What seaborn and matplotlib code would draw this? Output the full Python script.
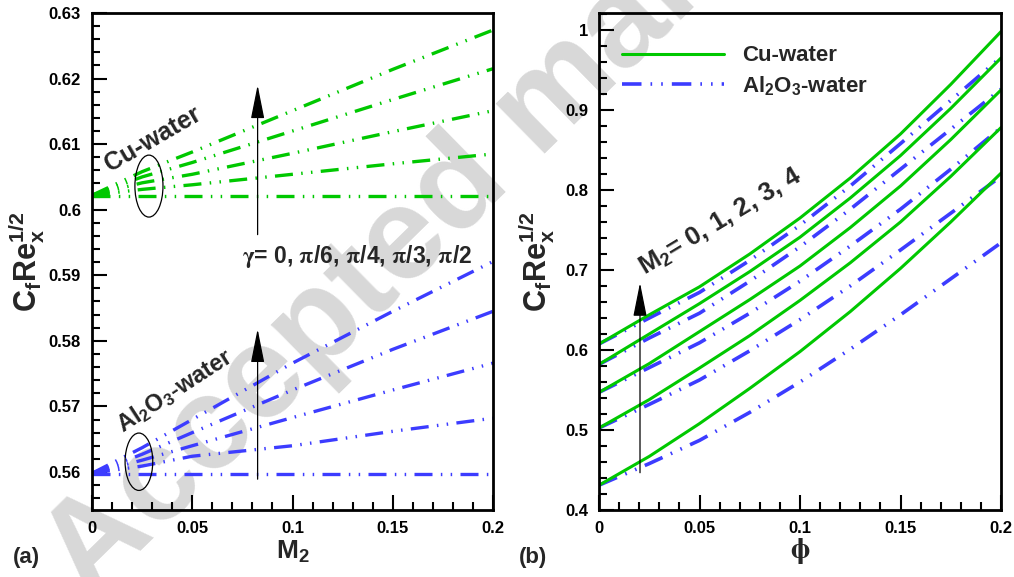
import numpy as np
import pandas as pd
import matplotlib
matplotlib.use("Agg")
import matplotlib.pyplot as plt
import seaborn as sns
from matplotlib.patches import Ellipse
from matplotlib.lines import Line2D

# ---------------- data: panel (a) ----------------
m2_vals = [0.0, 0.025, 0.05, 0.10, 0.15, 0.20]
gamma_labels = ["0", "pi/6", "pi/4", "pi/3", "pi/2"]
cu_g0 = [0.6021, 0.6021, 0.6021, 0.6021, 0.6021, 0.6021]
cu_g30 = [0.6022, 0.6031, 0.6038, 0.6054, 0.6070, 0.6085]
cu_g45 = [0.6022, 0.6041, 0.6054, 0.6086, 0.6119, 0.6151]
cu_g60 = [0.6022, 0.6050, 0.6072, 0.6120, 0.6168, 0.6215]
cu_g90 = [0.6022, 0.6058, 0.6088, 0.6151, 0.6214, 0.6274]
al_g0 = [0.5597, 0.5597, 0.5597, 0.5597, 0.5597, 0.5597]
al_g30 = [0.5598, 0.5609, 0.5624, 0.5640, 0.5662, 0.5682]
al_g45 = [0.5598, 0.5618, 0.5640, 0.5683, 0.5725, 0.5766]
al_g60 = [0.5598, 0.5627, 0.5660, 0.5725, 0.5787, 0.5845]
al_g90 = [0.5598, 0.5637, 0.5680, 0.5766, 0.5845, 0.5921]

# ---------------- data: panel (b) ----------------
phi_vals = [0.0, 0.025, 0.05, 0.075, 0.10, 0.125, 0.15, 0.175, 0.20]
m2_levels = [0, 1, 2, 3, 4]
cu_m0 = [0.431, 0.467, 0.508, 0.552, 0.598, 0.648, 0.702, 0.760, 0.821]
cu_m1 = [0.5025, 0.538, 0.5775, 0.618, 0.662, 0.709, 0.760, 0.817, 0.878]
cu_m2 = [0.547, 0.583, 0.623, 0.663, 0.705, 0.753, 0.805, 0.863, 0.925]
cu_m3 = [0.582, 0.620, 0.658, 0.698, 0.741, 0.790, 0.843, 0.902, 0.965]
cu_m4 = [0.6075, 0.644, 0.679, 0.720, 0.765, 0.815, 0.870, 0.932, 0.998]
al_m0 = [0.431, 0.458, 0.487, 0.522, 0.560, 0.601, 0.644, 0.689, 0.734]
al_m1 = [0.5025, 0.532, 0.5625, 0.599, 0.638, 0.680, 0.725, 0.771, 0.817]
al_m2 = [0.547, 0.578, 0.609, 0.646, 0.686, 0.730, 0.776, 0.826, 0.878]
al_m3 = [0.582, 0.615, 0.646, 0.686, 0.729, 0.776, 0.826, 0.876, 0.926]
al_m4 = [0.6075, 0.640, 0.672, 0.712, 0.756, 0.805, 0.858, 0.912, 0.966]

# ---------------- style ----------------
sns.set_style("ticks")
plt.rcParams["font.family"] = ["Liberation Sans", "DejaVu Sans"]
plt.rcParams["font.weight"] = "bold"
plt.rcParams["mathtext.fontset"] = "custom"
plt.rcParams["mathtext.rm"] = "Liberation Sans:bold"
plt.rcParams["mathtext.bf"] = "Liberation Sans:bold"
plt.rcParams["mathtext.it"] = "Liberation Sans:bold:italic"

GREEN = "#00c800"
BLUE = "#3c3cff"
DDOT = (0, (5.4, 2.5, 0.45, 2.5, 0.45, 2.5))

fig = plt.figure(figsize=(10.14, 5.77), dpi=100)
W, H = 1014, 577

def px_axes(l, r, t, b):
    return fig.add_axes([l / W, (H - b) / H, (r - l) / W, (b - t) / H])

axA = px_axes(92, 493, 13, 510)
axB = px_axes(599, 1001, 13, 510)

# watermark
fig.text(89 / W, (H - 602) / H, "Accepted manuscript", rotation=44.5,
         rotation_mode="anchor", ha="left", va="baseline",
         fontsize=95, fontweight="bold", color="#d8d8d8", zorder=0)

for ax in (axA, axB):
    ax.set_facecolor("none")
    ax.set_zorder(2)

# ---- panel (a)
cu_list = [cu_g0, cu_g30, cu_g45, cu_g60, cu_g90]
al_list = [al_g0, al_g30, al_g45, al_g60, al_g90]
for vals in cu_list:
    sns.lineplot(x=m2_vals, y=vals, ax=axA, color=GREEN, lw=2.4,
                 linestyle=DDOT, errorbar=None)
for vals in al_list:
    sns.lineplot(x=m2_vals, y=vals, ax=axA, color=BLUE, lw=2.4,
                 linestyle=DDOT, errorbar=None)

axA.set_xlim(0, 0.2)
axA.set_ylim(0.5542, 0.63)
axA.set_xticks([0, 0.05, 0.1, 0.15, 0.2])
axA.set_xticklabels(["0", "0.05", "0.1", "0.15", "0.2"])
axA.set_xticks(np.arange(0, 0.2001, 0.01), minor=True)
axA.set_yticks([0.56, 0.57, 0.58, 0.59, 0.6, 0.61, 0.62, 0.63])
axA.set_yticklabels(["0.56", "0.57", "0.58", "0.59", "0.6", "0.61", "0.62", "0.63"])
axA.set_yticks(np.arange(0.556, 0.6301, 0.002), minor=True)

axA.add_patch(Ellipse((0.0284, 0.6036), 0.0140, 0.00945, fill=False,
                      ec="black", lw=0.9, zorder=5))
axA.add_patch(Ellipse((0.0234, 0.56156), 0.0138, 0.00875, fill=False,
                      ec="black", lw=0.9, zorder=5))
arrow_kw = dict(arrowstyle="-|>,head_length=2.1,head_width=0.42",
                mutation_scale=10, lw=0.9, color="black",
                shrinkA=0, shrinkB=0)
axA.annotate("", xy=(0.0826, 0.6190), xytext=(0.0826, 0.5962), arrowprops=arrow_kw)
axA.annotate("", xy=(0.0826, 0.5818), xytext=(0.0826, 0.5589), arrowprops=arrow_kw)
axA.text(0.0302, 0.6108, "Cu-water", rotation=30, ha="center", va="center",
         fontsize=18, fontweight="bold")
axA.text(0.0414, 0.5724, r"Al$_2$O$_3$-water", rotation=33, ha="center",
         va="center", fontsize=17, fontweight="bold")
axA.text(0.1322, 0.5928,
         r"$\mathrm{\gamma}$= 0, $\mathrm{\pi}$/6, $\mathrm{\pi}$/4, $\mathrm{\pi}$/3, $\mathrm{\pi}$/2",
         ha="center", va="center", fontsize=16.5, fontweight="bold",
         math_fontfamily="stix")

# ---- panel (b)
cuB = [cu_m0, cu_m1, cu_m2, cu_m3, cu_m4]
alB = [al_m0, al_m1, al_m2, al_m3, al_m4]
for vals in alB:
    sns.lineplot(x=phi_vals, y=vals, ax=axB, color=BLUE, lw=2.6,
                 linestyle=DDOT, errorbar=None)
for vals in cuB:
    sns.lineplot(x=phi_vals, y=vals, ax=axB, color=GREEN, lw=2.2,
                 linestyle="-", errorbar=None)

axB.set_xlim(0, 0.2)
axB.set_ylim(0.4, 1.02125)
axB.set_xticks([0, 0.05, 0.1, 0.15, 0.2])
axB.set_xticklabels(["0", "0.05", "0.1", "0.15", "0.2"])
axB.set_xticks(np.arange(0, 0.2001, 0.01), minor=True)
axB.set_yticks([0.4, 0.5, 0.6, 0.7, 0.8, 0.9, 1.0])
axB.set_yticklabels(["0.4", "0.5", "0.6", "0.7", "0.8", "0.9", "1"])
axB.set_yticks(np.arange(0.4, 1.0201, 0.02), minor=True)

axB.annotate("", xy=(0.0204, 0.684), xytext=(0.0204, 0.4466), arrowprops=arrow_kw)
axB.text(0.0605, 0.7605, r"M$_2$= 0, 1, 2, 3, 4", rotation=31, ha="center",
         va="center", fontsize=18.5, fontweight="bold")

handles = [Line2D([], [], color=GREEN, lw=2.2),
           Line2D([], [], color=BLUE, lw=2.6, linestyle=DDOT)]
axB.legend(handles, ["Cu-water", r"Al$_2$O$_3$-water"], loc="upper left",
           bbox_to_anchor=(0.057, 0.935), frameon=False, borderpad=0,
           borderaxespad=0, handlelength=4.6, handletextpad=0.8,
           labelspacing=0.35, prop=dict(size=16, weight="bold"))

# ---- common axis styling
ylab = r"$\mathbf{C_fRe_x^{1/2}}$"
for ax in (axA, axB):
    for s in ax.spines.values():
        s.set_linewidth(2)
        s.set_color("black")
    ax.tick_params(which="both", direction="in", top=False, right=False,
                   labelsize=12, width=1.5, colors="black")
    ax.tick_params(which="major", length=11, pad=8)
    ax.tick_params(which="minor", length=6)
    for lab in ax.get_xticklabels() + ax.get_yticklabels():
        lab.set_fontweight("bold")
axA.set_ylabel(ylab, fontsize=22, labelpad=1)
axB.set_ylabel(ylab, fontsize=22, labelpad=6)
axA.set_xlabel(r"$\mathbf{M_2}$", fontsize=19, labelpad=2)
axB.set_xlabel(r"$\mathrm{\phi}$", fontsize=21, labelpad=0,
               math_fontfamily="stix")

fig.text(26 / W, (H - 558) / H, "(a)", ha="center", va="center",
         fontsize=16, fontweight="bold")
fig.text(533 / W, (H - 557) / H, "(b)", ha="center", va="center",
         fontsize=16, fontweight="bold")

fig.savefig("out.png", dpi=100)
